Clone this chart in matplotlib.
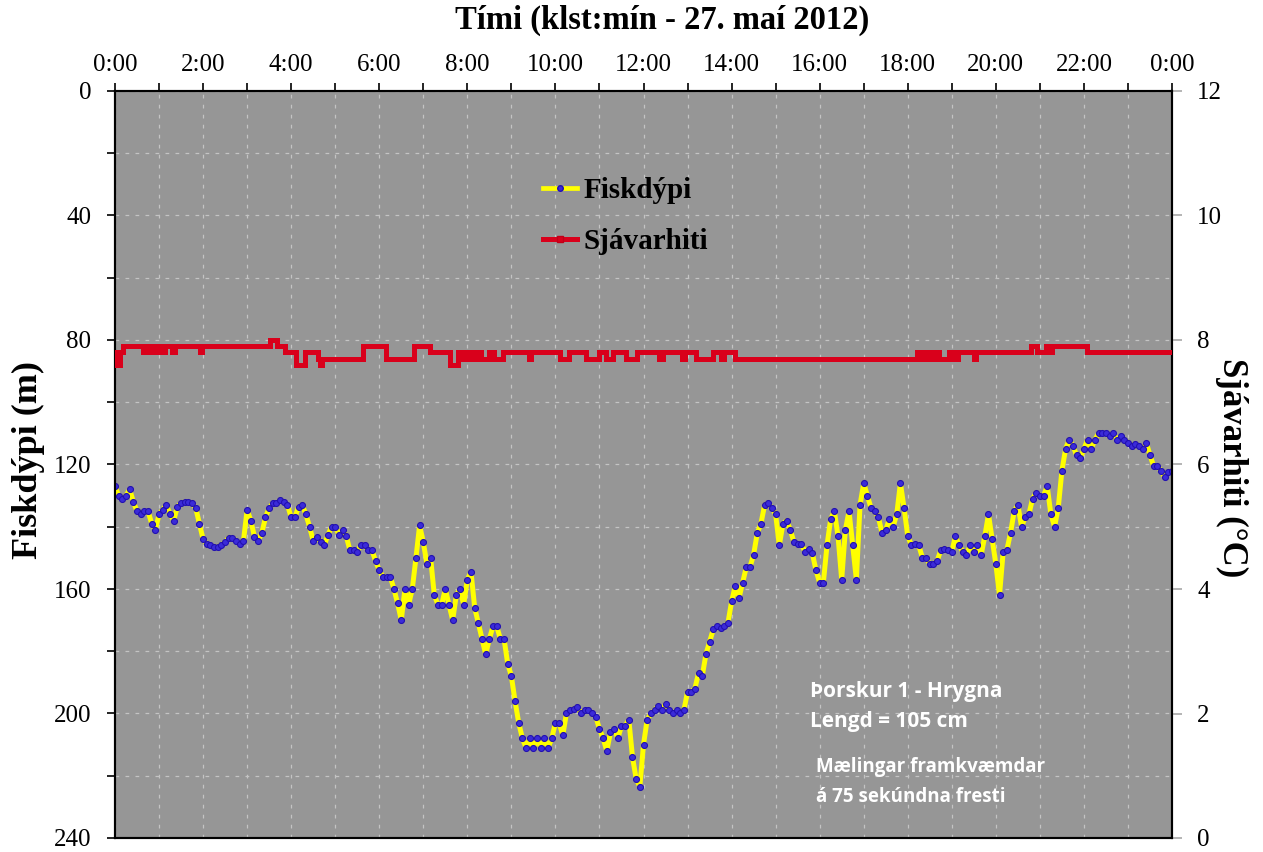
import numpy as np
import matplotlib
matplotlib.use('Agg')
import matplotlib.pyplot as plt
from matplotlib.ticker import MultipleLocator, FixedLocator

# ---------------- data ----------------
# Fish depth (m), read every 5 minutes from 0:00 to 24:00
depth_m = [
    127, 130, 131, 130, 128, 132, 135, 136, 135, 135, 139, 141,          # 0
    136, 134.5, 133, 136, 138, 133.5, 132.5, 132, 132, 132.5, 134, 139,  # 1
    144, 145.5, 146, 146.5, 146.4, 145.8, 145, 143.5, 143.5, 144.5, 145.5, 144.5,  # 2
    134.6, 138, 143.2, 144.5, 142, 137, 134, 132.5, 132.5, 131.4, 132, 133,  # 3
    137, 137, 133.6, 133, 136, 140, 144.5, 143.2, 144.8, 146, 142.7, 140,  # 4
    140, 142.5, 141, 143, 147.5, 147.5, 148, 146, 146, 147.5, 147.5, 151,  # 5
    154, 156, 156, 156, 160, 164.6, 170, 160, 165, 160, 150, 139.5,      # 6
    145, 152, 150, 162, 165, 165, 160, 165, 170, 162, 160, 165,          # 7
    157, 154.5, 166, 171, 176, 181, 176, 172, 172, 176, 176, 184,        # 8
    188, 196, 203, 208, 211, 208, 211, 208, 211, 208, 211, 208,          # 9
    203, 203, 207, 200, 199, 198.5, 198, 200, 199, 199, 200, 201,        # 10
    205, 208, 212, 206, 205, 208, 204, 204, 202, 214, 221, 223.5,        # 11
    210, 202, 200, 199, 197.5, 199, 197, 199, 200, 199, 200, 199,        # 12
    193, 193, 192, 187, 188, 181, 177, 173, 172, 172.5, 172, 171,        # 13
    164, 159, 163, 158, 153, 153, 149, 142, 139, 133, 132.5, 134,        # 14
    136, 146, 139, 138, 141, 145, 145.5, 145.5, 148, 147, 148.5, 154,    # 15
    158, 158, 146, 137.5, 135, 143, 157, 141, 135, 146, 157, 133,        # 16
    126, 130, 134, 135, 137, 142, 141, 137.5, 140, 136, 126, 134,        # 17
    143, 146, 145.5, 146, 150, 150, 152, 152, 151, 147.5, 147, 147.5,    # 18
    148, 143, 146, 148, 149, 146, 148, 146, 149, 143, 136, 144,          # 19
    152, 162, 148, 147.5, 142, 135, 133, 140, 137, 136, 131, 129,        # 20
    130, 130, 127, 136, 140, 134, 122, 115, 112, 114, 117, 118,          # 21
    115, 112, 115, 112, 110, 110, 110, 111, 110, 112, 111, 112,          # 22
    113, 114, 113.5, 114, 115, 113, 117, 120.5, 120.5, 122, 124, 122.5,  # 23
    122,
]
sample_step_min = 5

# Sea temperature (deg C): step series, hour at which each level begins
temp_change_hours = [
    0.00, 0.04, 0.11, 0.19, 0.64, 0.76, 0.87, 0.95, 1.05, 1.13, 1.29, 1.36,
    1.93, 1.97, 3.52, 3.67, 3.86, 4.12, 4.31, 4.60, 4.65, 4.71, 5.63, 6.16,
    6.80, 7.15, 7.60, 7.78, 7.90, 8.00, 8.10, 8.20, 8.30, 8.50, 8.60, 8.80,
    9.41, 9.45, 10.10, 10.30, 10.70, 11.00, 11.15, 11.30, 11.60, 11.85,
    12.35, 12.45, 12.88, 12.95, 13.20, 13.57, 13.75, 13.82, 14.07, 18.20,
    18.30, 18.40, 18.50, 18.60, 18.70, 18.94, 19.05, 19.15, 19.50, 19.55,
    20.80, 20.94, 21.13, 21.20, 21.28, 22.07, 24.00,
]
temp_change_values = [
    7.8, 7.6, 7.8, 7.9, 7.8, 7.9, 7.8, 7.9, 7.8, 7.9, 7.8, 7.9,
    7.8, 7.9, 8.0, 7.9, 7.8, 7.6, 7.8, 7.7, 7.6, 7.7, 7.9, 7.7,
    7.9, 7.8, 7.6, 7.8, 7.7, 7.8, 7.7, 7.8, 7.7, 7.8, 7.7, 7.8,
    7.7, 7.8, 7.7, 7.8, 7.7, 7.8, 7.7, 7.8, 7.7, 7.8,
    7.7, 7.8, 7.7, 7.8, 7.7, 7.8, 7.7, 7.8, 7.7, 7.8,
    7.7, 7.8, 7.7, 7.8, 7.7, 7.8, 7.7, 7.8, 7.7, 7.8,
    7.9, 7.8, 7.9, 7.8, 7.9, 7.8, 7.8,
]

x_tick_labels = ['0:00', '2:00', '4:00', '6:00', '8:00', '10:00', '12:00',
                 '14:00', '16:00', '18:00', '20:00', '22:00', '0:00']
depth_ticks = [0, 40, 80, 120, 160, 200, 240]
temp_ticks = [0, 2, 4, 6, 8, 10, 12]

# ---------------- figure ----------------
W, H = 1263, 852
serif = 'Liberation Serif'
fig = plt.figure(figsize=(W / 100, H / 100), dpi=100)
L, R, T, B = 115, 1172, 91, 838
ax = fig.add_axes([L / W, 1 - B / H, (R - L) / W, (B - T) / H])
ax.set_facecolor('#969696')

hours = np.arange(len(depth_m)) * sample_step_min / 60.0
ax.plot(hours, depth_m, color='#ffff00', lw=3.6, marker='o', ms=4.3,
        mfc='#3b2bd9', mec='#2210b0', mew=0.8, zorder=3, label='Fiskdýpi')
ax.set_xlim(0, 24)
ax.set_ylim(240, 0)

ax2 = ax.twinx()
ax2.plot(temp_change_hours, temp_change_values, drawstyle='steps-post',
         color='#d9001b', lw=3.6, zorder=3, solid_joinstyle='miter')
ax2.set_ylim(0, 12)

# ticks
ax.xaxis.tick_top()
ax.xaxis.set_major_locator(FixedLocator(list(range(0, 25, 2))))
ax.xaxis.set_minor_locator(FixedLocator(list(range(1, 24, 2))))
ax.set_xticklabels(x_tick_labels)
ax.yaxis.set_major_locator(FixedLocator(depth_ticks))
ax.yaxis.set_minor_locator(MultipleLocator(20))
ax.set_yticklabels([str(v) for v in depth_ticks])
ax.tick_params(axis='x', which='both', direction='out', length=6, width=1.2,
               colors='black', top=True, bottom=False, pad=5)
ax.tick_params(axis='y', which='both', direction='out', length=6, width=1.2,
               colors='black', pad=11)
for lab in ax.get_xticklabels() + ax.get_yticklabels():
    lab.set_fontfamily(serif)
    lab.set_fontsize(18)

ax2.yaxis.set_major_locator(FixedLocator(temp_ticks))
ax2.set_yticklabels([str(v) for v in temp_ticks])
ax2.tick_params(axis='y', which='major', direction='out', length=7, width=1.2,
                color='#a8a8a8', labelcolor='black', pad=11)
for lab in ax2.get_yticklabels():
    lab.set_fontfamily(serif)
    lab.set_fontsize(18)

# grid
ax.grid(True, which='both', axis='both', color='#c4c4c4', linestyle=(0, (3, 5)),
        linewidth=0.9, zorder=0)
ax.set_axisbelow(True)

for a in (ax, ax2):
    for s in a.spines.values():
        s.set_color('black')
        s.set_linewidth(1.5)

# legend
h1, = ax.plot([], [], color='#ffff00', lw=3.4, marker='o', ms=4,
              mfc='#3b2bd9', mec='#2210b0', label='Fiskdýpi')
h2, = ax.plot([], [], color='#d9001b', lw=3.6, marker='s', ms=4,
              mfc='#d9001b', mec='#c00018', label='Sjávarhiti')
leg = ax2.legend(handles=[h1, h2], loc='upper left',
                 bbox_to_anchor=(543 / W, 1 - 177 / H), bbox_transform=fig.transFigure,
                 frameon=False, handlelength=1.15, handletextpad=0.25,
                 labelspacing=0.83, borderpad=0, borderaxespad=0,
                 prop={'family': serif, 'weight': 'bold', 'size': 21})

# titles / labels
fig.text(662 / W, 1 - 20 / H, 'Tími (klst:mín - 27. maí 2012)', ha='center', va='center',
         fontfamily=serif, fontweight='bold', fontsize=23.5)
fig.text(28 / W, 1 - 460 / H, 'Fiskdýpi (m)', rotation=90, ha='center', va='center',
         fontfamily=serif, fontweight='bold', fontsize=26)
fig.text(1232 / W, 1 - 468 / H, 'Sjávarhiti (°C)', rotation=270, ha='center', va='center',
         fontfamily=serif, fontweight='bold', fontsize=25)

# annotation
fig.text(810 / W, 1 - 692 / H, 'Þorskur 1 - Hrygna', ha='left', va='center',
         fontfamily='Open Sans', fontweight='bold', fontsize=15, color='white')
fig.text(810 / W, 1 - 722 / H, 'Lengd = 105 cm', ha='left', va='center',
         fontfamily='Open Sans', fontweight='bold', fontsize=15, color='white')
fig.text(816 / W, 1 - 767 / H, 'Mælingar framkvæmdar', ha='left', va='center',
         fontfamily='Open Sans', fontweight='bold', fontsize=13.5, color='white')
fig.text(816 / W, 1 - 797 / H, 'á 75 sekúndna fresti', ha='left', va='center',
         fontfamily='Open Sans', fontweight='bold', fontsize=13.5, color='white')

fig.savefig('out.png', dpi=100, facecolor='white')
